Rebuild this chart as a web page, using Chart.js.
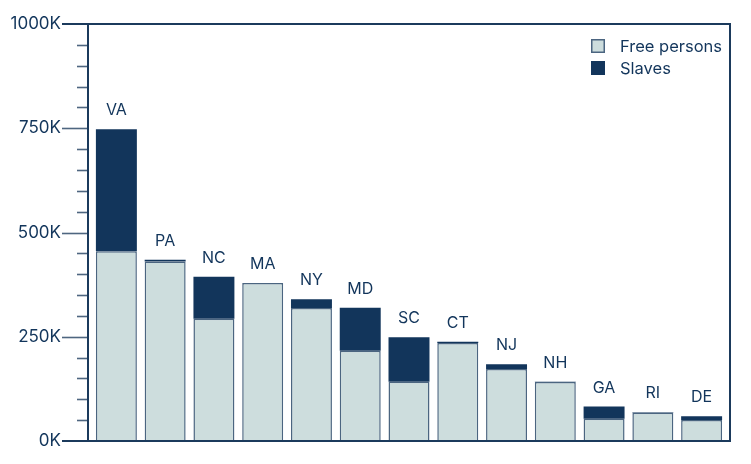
<!DOCTYPE html>
<html><head><meta charset="utf-8">
<script src="https://cdn.jsdelivr.net/npm/chart.js@4.4.1/dist/chart.umd.min.js"></script>
<style>html,body{margin:0;padding:0;background:#fff}#wrap{width:751px;height:464px}</style>
</head><body><div id="wrap"><canvas id="c" width="751" height="464"></canvas></div>
<script>
const states = ['VA','PA','NC','MA','NY','MD','SC','CT','NJ','NH','GA','RI','DE'];
const freePersons = [454983, 430636, 293179, 378787, 318796, 216692, 141979, 235182, 172716, 141727, 53284, 67877, 50207];
const slaves = [292627, 3737, 100572, 0, 21324, 103036, 107094, 2764, 11423, 158, 29264, 948, 8887];
const seriesNames = ['Free persons', 'Slaves'];
const yMajorStep = 250000;
const yMinorStep = 50000;
const yMax = 1000000;

const NAVY = '#12355b';
const FREE = '#cddddd';
const FREE_BORDER = '#4b6580';
const TICK = '#4e6680';
const FONT = 'Inter, "Noto Sans", sans-serif';

const overlay = {
  id: 'overlay',
  afterDraw(chart) {
    const ctx = chart.ctx;
    const ca = chart.chartArea;
    const y = chart.scales.y, x = chart.scales.x;
    const L = ca.left - 4, R = ca.right + 4, T = ca.top, B = ca.bottom;
    ctx.save();
    // ticks
    ctx.strokeStyle = TICK; ctx.lineWidth = 1.6;
    for (let v = yMinorStep; v < yMax; v += yMinorStep) {
      const py = Math.round(y.getPixelForValue(v)) + 0.5;
      ctx.beginPath();
      if (v % yMajorStep === 0) { ctx.moveTo(L - 26, py); } else { ctx.moveTo(L - 11, py); }
      ctx.lineTo(L, py); ctx.stroke();
    }
    // frame
    ctx.strokeStyle = '#1b3a5c'; ctx.lineWidth = 2;
    ctx.beginPath();
    ctx.moveTo(L - 26, T); ctx.lineTo(R, T);
    ctx.moveTo(L - 26, B); ctx.lineTo(R, B);
    ctx.moveTo(L, T); ctx.lineTo(L, B);
    ctx.moveTo(R, T - 1); ctx.lineTo(R, B + 1);
    ctx.stroke();
    // state labels
    ctx.fillStyle = NAVY;
    ctx.font = '16px ' + FONT;
    ctx.textAlign = 'center'; ctx.textBaseline = 'alphabetic';
    states.forEach((s, i) => {
      const px = x.getPixelForValue(i);
      const py = y.getPixelForValue(freePersons[i] + slaves[i]);
      ctx.fillText(s, px, py - 14);
    });
    // legend
    const lx = R - 139, ly = T + 22;
    ctx.font = '16.5px ' + FONT;
    const ds = chart.data.datasets;
    ds.forEach((d, i) => {
      const cy = ly + i * 22;
      ctx.fillStyle = d.backgroundColor;
      ctx.fillRect(lx, cy - 7, 14, 14);
      if (d.borderWidth) {
        ctx.strokeStyle = d.borderColor; ctx.lineWidth = 1.5;
        ctx.strokeRect(lx + 0.75, cy - 6.25, 12.5, 12.5);
      }
      ctx.fillStyle = NAVY;
      ctx.textAlign = 'left'; ctx.textBaseline = 'middle';
      ctx.fillText(d.label, lx + 29, cy + 1);
    });
    ctx.restore();
  }
};

new Chart(document.getElementById('c'), {
  type: 'bar',
  data: {
    labels: states,
    datasets: [
      { label: seriesNames[0], data: freePersons, backgroundColor: FREE, borderColor: FREE_BORDER, borderWidth: 1.5,
        barPercentage: 0.84, categoryPercentage: 1 },
      { label: seriesNames[1], data: slaves, backgroundColor: NAVY, borderColor: NAVY, borderWidth: 0,
        barPercentage: 0.84, categoryPercentage: 1 }
    ]
  },
  options: {
    responsive: false,
    animation: false,
    layout: { padding: { left: 0, top: 24, right: 25, bottom: 23 } },
    plugins: { legend: { display: false }, tooltip: { enabled: false } },
    scales: {
      x: {
        stacked: true, offset: true,
        ticks: { display: false },
        grid: { display: false, drawTicks: false },
        border: { display: false },
        afterFit(s) { s.height = 0; }
      },
      y: {
        stacked: true, min: 0, max: yMax,
        ticks: { stepSize: yMajorStep, padding: 0, color: NAVY, font: { size: 17, family: FONT },
          callback: v => (v / 1000) + 'K' },
        grid: { display: true, drawOnChartArea: false, drawTicks: true, tickLength: 31, tickColor: 'rgba(0,0,0,0)' },
        border: { display: false },
        afterFit(s) { s.width = 92; }
      }
    }
  },
  plugins: [overlay]
});
</script>
</body></html>
